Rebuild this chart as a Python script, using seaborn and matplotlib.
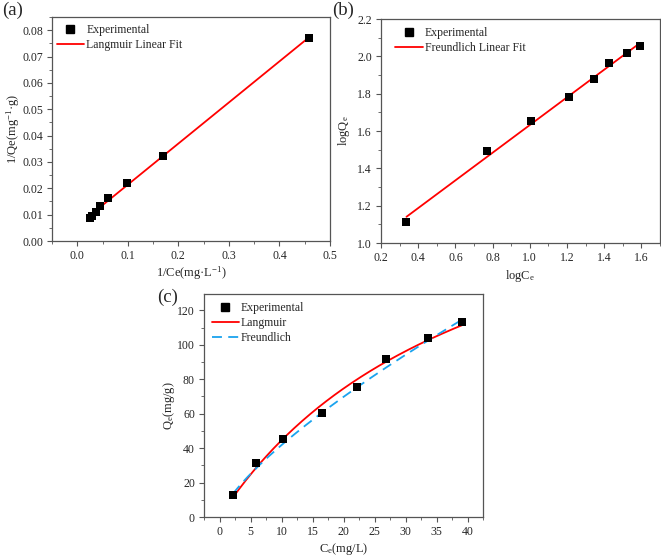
import numpy as np
import pandas as pd
import matplotlib
matplotlib.use("Agg")
import matplotlib.pyplot as plt
from matplotlib.ticker import MultipleLocator
from matplotlib.lines import Line2D
import seaborn as sns

# ---- data ----
inv_ce = [0.0255, 0.0296, 0.0372, 0.0448, 0.0602, 0.098, 0.169, 0.459]
inv_qe = [0.0088, 0.0096, 0.0109, 0.0132, 0.0165, 0.0220, 0.0322, 0.0771]

log_ce = [0.337, 0.769, 1.006, 1.212, 1.345, 1.426, 1.525, 1.591]
log_qe = [1.113, 1.494, 1.654, 1.782, 1.878, 1.962, 2.016, 2.055]

ce = [2.2, 5.9, 10.2, 16.5, 22.2, 26.8, 33.7, 39.1]
qe = [12.8, 31.1, 45.4, 60.5, 75.7, 91.8, 103.8, 113.0]

# nonlinear model parameters (fit curves of panel c)
langmuir_qm, langmuir_kl = 230.0, 0.024
freundlich_kf, freundlich_inv_n = 7.6, 0.74

sns.set_theme(style="ticks")
plt.rcParams["font.family"] = ["Liberation Serif", "DejaVu Serif"]
plt.rcParams["mathtext.fontset"] = "stix"

fig = plt.figure(figsize=(6.61, 5.58), dpi=100)
W, H = 661, 558

def box(l, t, r, b):
    return [l / W, 1 - b / H, (r - l) / W, (b - t) / H]

ax_a = fig.add_axes(box(52, 17, 330, 241))
ax_b = fig.add_axes(box(381, 19, 660, 243))
ax_c = fig.add_axes(box(204, 294, 483, 517))

red = "#FF0000"
blue = "#1AA3EE"
edge = "#555555"
mk = dict(marker="s", color="black", s=34, edgecolor="black", linewidth=0, zorder=3)

# (a)
sns.scatterplot(x=inv_ce, y=inv_qe, ax=ax_a, **mk)
sns.regplot(x=np.array(inv_ce), y=np.array(inv_qe), ax=ax_a, ci=None, scatter=False,
            line_kws=dict(color=red, lw=1.3, zorder=2))
ax_a.set_xlim(-0.05, 0.5)
ax_a.set_ylim(0, 0.085)
ax_a.xaxis.set_major_locator(MultipleLocator(0.1))
ax_a.xaxis.set_minor_locator(MultipleLocator(0.05))
ax_a.yaxis.set_major_locator(MultipleLocator(0.01))
ax_a.yaxis.set_minor_locator(MultipleLocator(0.005))
ax_a.xaxis.set_major_formatter(plt.FuncFormatter(lambda v, p: f"{v:.1f}"))
ax_a.yaxis.set_major_formatter(plt.FuncFormatter(lambda v, p: f"{v:.2f}"))
ax_a.set_xlabel("1/Ce(mg·L$\\mathregular{^{-1}}$)", fontsize=9)
ax_a.set_ylabel("1/Qe(mg$\\mathregular{^{-1}}$·g)", fontsize=9)
ax_a.xaxis.set_label_coords(0.5, -0.103)
ax_a.yaxis.set_label_coords(-0.108, 0.5)

# (b)
sns.scatterplot(x=log_ce, y=log_qe, ax=ax_b, **mk)
sns.regplot(x=np.array(log_ce), y=np.array(log_qe), ax=ax_b, ci=None, scatter=False,
            line_kws=dict(color=red, lw=1.3, zorder=2))
ax_b.set_xlim(0.2, 1.7)
ax_b.set_ylim(1.0, 2.2)
ax_b.xaxis.set_major_locator(MultipleLocator(0.2))
ax_b.xaxis.set_minor_locator(MultipleLocator(0.1))
ax_b.yaxis.set_major_locator(MultipleLocator(0.2))
ax_b.yaxis.set_minor_locator(MultipleLocator(0.1))
ax_b.xaxis.set_major_formatter(plt.FuncFormatter(lambda v, p: f"{v:.1f}"))
ax_b.yaxis.set_major_formatter(plt.FuncFormatter(lambda v, p: f"{v:.1f}"))
ax_b.set_xlabel("logC$\\mathregular{_e}$", fontsize=9)
ax_b.set_ylabel("logQ$\\mathregular{_e}$", fontsize=9)
ax_b.xaxis.set_label_coords(0.5, -0.112)
ax_b.yaxis.set_label_coords(-0.104, 0.5)

# (c)
cfit = np.linspace(min(ce), max(ce), 200)
q_lang = langmuir_qm * langmuir_kl * cfit / (1 + langmuir_kl * cfit)
q_freu = freundlich_kf * cfit ** freundlich_inv_n
sns.scatterplot(x=ce, y=qe, ax=ax_c, **mk)
sns.lineplot(x=cfit, y=q_lang, ax=ax_c, color=red, lw=1.3, zorder=2)
sns.lineplot(x=cfit, y=q_freu, ax=ax_c, color=blue, lw=1.3, zorder=2)
ax_c.lines[-1].set_dashes((5.5, 3.5))
ax_c.set_xlim(-2.5, 42.5)
ax_c.set_ylim(0, 129.5)
ax_c.xaxis.set_major_locator(MultipleLocator(5))
ax_c.xaxis.set_minor_locator(MultipleLocator(2.5))
ax_c.yaxis.set_major_locator(MultipleLocator(20))
ax_c.yaxis.set_minor_locator(MultipleLocator(10))
ax_c.set_xlabel("C$\\mathregular{_e}$(mg/L)", fontsize=9)
ax_c.set_ylabel("Q$\\mathregular{_e}$(mg/g)", fontsize=9)
ax_c.xaxis.set_label_coords(0.5, -0.108)
ax_c.yaxis.set_label_coords(-0.097, 0.5)

def h_exp():
    return Line2D([], [], ls="none", marker="s", color="black", markersize=5.8)
def h_line(c, dashed=False):
    l = Line2D([], [], color=c, lw=1.3)
    if dashed:
        l.set_dashes((5.5, 3.5))
    return l

legends = [
    (ax_a, [h_exp(), h_line(red)], ["Experimental", "Langmuir Linear Fit"], (0.0, 0.99)),
    (ax_b, [h_exp(), h_line(red)], ["Experimental", "Freundlich Linear Fit"], (0.035, 0.985)),
    (ax_c, [h_exp(), h_line(red), h_line(blue, True)],
     ["Experimental", "Langmuir", "Freundlich"], (0.01, 0.985)),
]

for ax, hs, ls, anchor in legends:
    for s in ax.spines.values():
        s.set_visible(True)
        s.set_color(edge)
        s.set_linewidth(0.9)
    ax.tick_params(which="major", direction="out", length=3.5, width=0.8,
                   labelsize=8.5, color=edge, pad=3)
    ax.tick_params(which="minor", direction="out", length=2, width=0.6, color=edge)
    ax.legend(hs, ls, loc="upper left", frameon=False, fontsize=8.5, handlelength=2.3,
              handletextpad=0.2, labelspacing=0.25, borderaxespad=0.2, borderpad=0.2,
              bbox_to_anchor=anchor)
    ax.grid(False)

fig.text(2 / W, 1 - 2 / H, "(a)", fontsize=13.5, va="top", ha="left")
fig.text(332 / W, 1 - 2 / H, "(b)", fontsize=13.5, va="top", ha="left")
fig.text(157 / W, 1 - 289 / H, "(c)", fontsize=13.5, va="top", ha="left")

fig.savefig("out.png", dpi=100, facecolor="white")
